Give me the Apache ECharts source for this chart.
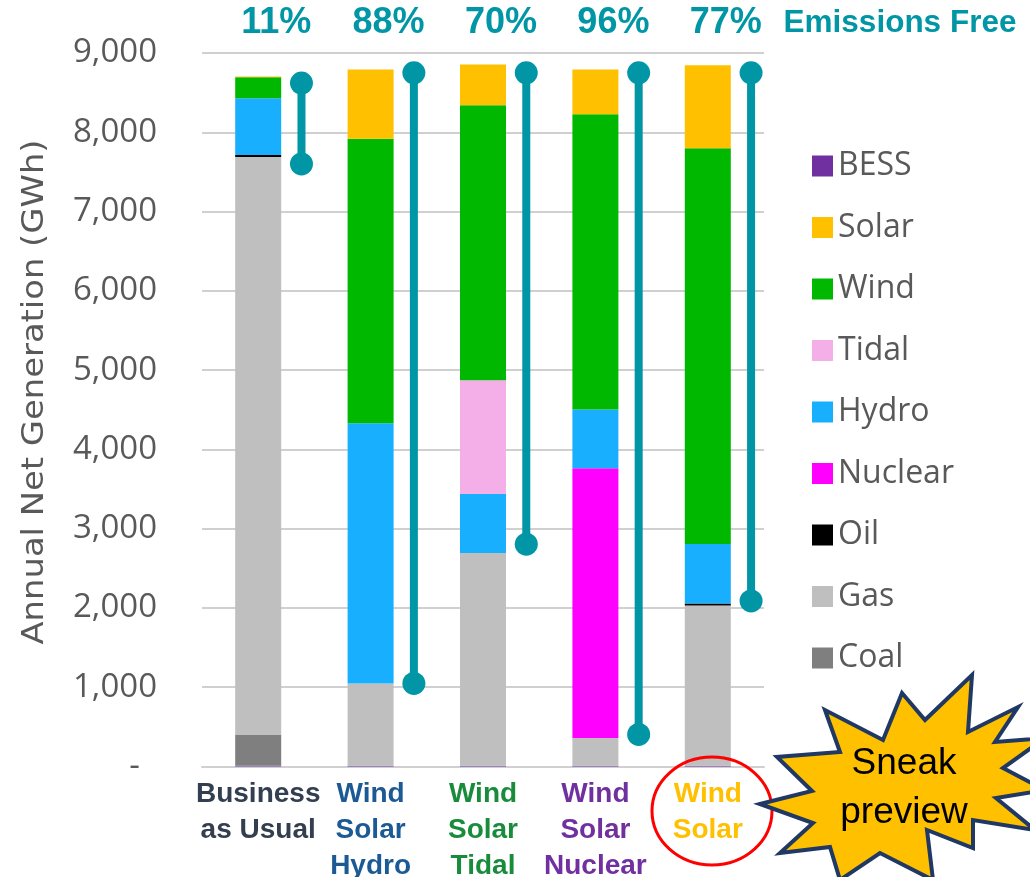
<!DOCTYPE html>
<html>
<head>
<meta charset="utf-8">
<script src="https://cdn.jsdelivr.net/npm/echarts@6/dist/echarts.min.js"></script>
<style>
html,body{margin:0;padding:0;background:#fff;}
#chart{width:1030px;height:877px;}
</style>
</head>
<body>
<div id="chart"></div>
<script>
// ---- data ----
const categories = ['Business\nas Usual', 'Wind\nSolar\nHydro', 'Wind\nSolar\nTidal', 'Wind\nSolar\nNuclear', 'Wind\nSolar'];
const categoryColors = ['#333F50', '#1C5A96', '#198C3C', '#7030A0', '#FFC000'];
const bess    = [10, 10, 10, 10, 10];
const coal    = [395, 0, 0, 0, 0];
const gas     = [7282, 1038, 2683, 349, 2020];
const oil     = [25, 0, 0, 0, 25];
const nuclear = [0, 0, 0, 3404, 0];
const hydro   = [716, 3282, 743, 739, 751];
const tidal   = [0, 0, 1436, 0, 0];
const wind    = [265, 3589, 3468, 3724, 4992];
const solar   = [12, 874, 516, 567, 1046];
const rangeLow  = [7600, 1048, 2805, 405, 2088];
const rangeHigh = [8621, 8750, 8750, 8750, 8750];
const emissionsFree = ['11%', '88%', '70%', '96%', '77%'];
const yTicks = [0, 1000, 2000, 3000, 4000, 5000, 6000, 7000, 8000, 9000];
const legendOrder = ['BESS', 'Solar', 'Wind', 'Tidal', 'Hydro', 'Nuclear', 'Oil', 'Gas', 'Coal'];

const TEAL = '#0096A6';
const colors = {
  BESS: '#7030A0', Coal: '#7F7F7F', Gas: '#BFBFBF', Oil: '#000000', Nuclear: '#FF00FF',
  Hydro: '#19AFFF', Tidal: '#F5AFE8', Wind: '#00B800', Solar: '#FFC000'
};
const stackSeries = [
  ['BESS', bess], ['Coal', coal], ['Gas', gas], ['Oil', oil], ['Nuclear', nuclear],
  ['Hydro', hydro], ['Tidal', tidal], ['Wind', wind], ['Solar', solar]
];

const chart = echarts.init(document.getElementById('chart'), null, {renderer: 'canvas'});

// measure y-axis title to stretch to reference length
const yTitle = 'Annual Net Generation (GWh)';
const yTitleFont = '30px "Liberation Sans Narrow", "DejaVu Sans Condensed", "Liberation Sans", sans-serif';
const mctx = document.createElement('canvas').getContext('2d');
mctx.font = yTitleFont;
const yTitleW = mctx.measureText(yTitle).width || 400;
const yTitleScale = 505 / yTitleW;

const rich = {};
categoryColors.forEach((c, i) => {
  rich['c' + i] = {color: c, fontWeight: 'bold', fontSize: 28, lineHeight: 36,
    fontFamily: '"Liberation Sans", Arial, sans-serif'};
});

const series = stackSeries.map(([name, arr]) => ({
  name, type: 'bar', stack: 'total', barWidth: 46,
  itemStyle: {color: colors[name]},
  data: arr
}));

series.push({
  name: 'range', type: 'custom', clip: false, z: 5,
  data: categories.map((c, i) => [i, rangeLow[i], rangeHigh[i]]),
  renderItem: function (params, api) {
    const i = api.value(0);
    const pLo = api.coord([i, api.value(1)]);
    const pHi = api.coord([i, api.value(2)]);
    const band = api.size([1, 0])[0];
    const x = pLo[0] + band * 0.385;
    return {
      type: 'group', children: [
        {type: 'line', shape: {x1: x, y1: pHi[1], x2: x, y2: pLo[1]}, style: {stroke: TEAL, lineWidth: 8}},
        {type: 'circle', shape: {cx: x, cy: pHi[1], r: 11.5}, style: {fill: TEAL}},
        {type: 'circle', shape: {cx: x, cy: pLo[1], r: 11.5}, style: {fill: TEAL}}
      ]
    };
  }
});

series.push({
  name: 'pct', type: 'custom', clip: false, z: 6,
  data: categories.map((c, i) => [i, 9000]),
  renderItem: function (params, api) {
    const i = api.value(0);
    const p = api.coord([i, api.value(1)]);
    const band = api.size([1, 0])[0];
    return {
      type: 'text', x: p[0] + band * 0.16, y: p[1] - 30,
      style: {text: emissionsFree[params.dataIndex], align: 'center', verticalAlign: 'middle',
        fontSize: 36, fontWeight: 'bold', fontFamily: '"Liberation Sans", Arial, sans-serif', fill: TEAL}
    };
  }
});

// starburst outline points (decoration)
const starPts = [
  [760,804],[812,791],[777,757],[840,752],[825,710],[883,740],[902,693],[925,720],
  [972,675],[968,732],[1018,707],[995,742],[1045,738],[1003,768],[1045,790],[996,798],
  [1035,830],[973,820],[973,848],[927,830],[933,880],[880,853],[840,880],[830,847],
  [780,853],[813,823]
];

const option = {
  backgroundColor: '#ffffff',
  animation: false,
  grid: {left: 202, right: 266, top: 53, bottom: 110.5, containLabel: false, outerBoundsMode: 'none'},
  legend: {
    data: legendOrder,
    orient: 'vertical', left: 807, top: 145,
    itemWidth: 21, itemHeight: 21, itemGap: 29.5, icon: 'rect',
    textStyle: {fontSize: 32, lineHeight: 32, color: '#595959', fontFamily: '"Open Sans", "Noto Sans", sans-serif',
      padding: [0, 0, 0, 0]}
  },
  xAxis: {
    type: 'category', data: categories,
    axisLine: {show: true, lineStyle: {color: '#D0D0D0', width: 2}},
    axisTick: {show: false},
    axisLabel: {
      interval: 0, margin: 10,
      formatter: function (v, idx) {
        return v.split('\n').map(s => '{c' + idx + '|' + s + '}').join('\n');
      },
      rich: rich
    }
  },
  yAxis: {
    type: 'value', min: 0, max: 9000, interval: 1000,
    axisLine: {show: false}, axisTick: {show: false},
    splitLine: {lineStyle: {color: '#D0D0D0', width: 2}},
    axisLabel: {
      margin: 45, fontSize: 33, color: '#595959', fontFamily: '"Open Sans", "Noto Sans", sans-serif',
      formatter: function (v) { return v === 0 ? '-  ' : v.toLocaleString('en-US'); }
    }
  },
  graphic: [
    {type: 'text', x: 35, y: 392, rotation: Math.PI / 2, scaleX: yTitleScale,
      style: {text: yTitle, align: 'center', verticalAlign: 'middle', font: yTitleFont, fill: '#595959'}},
    {type: 'text', x: 900, y: 23,
      style: {text: 'Emissions Free', align: 'center', verticalAlign: 'middle', fontSize: 31.5, fontWeight: 'bold',
        fontFamily: '"Liberation Sans", Arial, sans-serif', fill: TEAL}},
    {type: 'ellipse', shape: {cx: 712, cy: 811, rx: 60, ry: 54},
      style: {fill: 'none', stroke: '#FF0000', lineWidth: 3}, z: 10},
    {type: 'polygon', shape: {points: starPts},
      style: {fill: '#FFC000', stroke: '#1F3864', lineWidth: 4, lineJoin: 'miter'}, z: 11},
    {type: 'text', x: 904, y: 788, z: 12,
      style: {text: 'Sneak\npreview', align: 'center', verticalAlign: 'middle', fontSize: 37, lineHeight: 49,
        fontFamily: '"Liberation Sans", Arial, sans-serif', fill: '#000000'}}
  ],
  series: series
};
chart.setOption(option);
</script>
</body>
</html>
